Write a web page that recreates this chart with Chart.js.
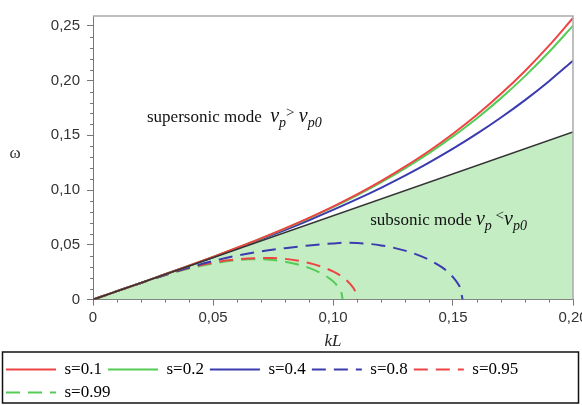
<!DOCTYPE html>
<html>
<head>
<meta charset="utf-8">
<script src="https://cdn.jsdelivr.net/npm/chart.js@4.4.1/dist/chart.umd.min.js"></script>
<style>
  html, body { margin: 0; background: #fff; }
  #wrap { width: 582px; height: 405px; }
</style>
</head>
<body>
<div id="wrap"><canvas id="dispersion"></canvas></div>
<script>
// wave number kL shared by the solid (supersonic) branches
const kSolid = [0, 0.01, 0.02, 0.03, 0.04, 0.05, 0.06, 0.07, 0.08, 0.09, 0.10,
                0.11, 0.12, 0.13, 0.14, 0.15, 0.16, 0.17, 0.18, 0.19, 0.20];
const omegaS01 = [0, 0.0077, 0.0153, 0.0231, 0.0309, 0.0390, 0.0473, 0.0559, 0.0650, 0.0747, 0.0850,
                  0.0961, 0.1082, 0.1214, 0.1357, 0.1515, 0.1688, 0.1879, 0.2088, 0.2319, 0.2572];
const omegaS02 = [0, 0.0077, 0.0153, 0.0231, 0.0309, 0.0389, 0.0472, 0.0558, 0.0648, 0.0743, 0.0844,
                  0.0953, 0.1071, 0.1199, 0.1338, 0.1491, 0.1657, 0.1840, 0.2041, 0.2261, 0.2502];
const omegaS04 = [0, 0.0077, 0.0153, 0.0231, 0.0308, 0.0387, 0.0468, 0.0551, 0.0636, 0.0725, 0.0819,
                  0.0917, 0.1021, 0.1132, 0.1251, 0.1378, 0.1515, 0.1663, 0.1822, 0.1995, 0.2182];

// subsonic branches, each closing on the axis
const kS08 = [0, 0.01, 0.02, 0.03, 0.04, 0.05, 0.06, 0.07, 0.08, 0.09, 0.10, 0.105, 0.11, 0.115,
              0.12, 0.125, 0.13, 0.135, 0.14, 0.145, 0.148, 0.15, 0.152, 0.153, 0.154];
const omegaS08 = [0, 0.0077, 0.0152, 0.0225, 0.0293, 0.0352, 0.0402, 0.0441, 0.0470, 0.0494, 0.0513, 0.0520, 0.0517, 0.0509,
                  0.0495, 0.0475, 0.0447, 0.0411, 0.0364, 0.0301, 0.0250, 0.0206, 0.0147, 0.0104, 0];
const kS095 = [0, 0.01, 0.02, 0.03, 0.04, 0.05, 0.06, 0.07, 0.075, 0.08, 0.085, 0.09, 0.095,
               0.10, 0.105, 0.108, 0.109, 0.1097, 0.110];
const omegaS095 = [0, 0.0077, 0.0152, 0.0224, 0.0288, 0.0338, 0.0367, 0.0379, 0.0380, 0.0372, 0.0357, 0.0334, 0.0302,
                   0.0257, 0.0189, 0.0121, 0.0087, 0.0048, 0];
const kS099 = [0, 0.01, 0.02, 0.03, 0.04, 0.05, 0.06, 0.065, 0.07, 0.075, 0.08, 0.085, 0.09,
               0.095, 0.098, 0.10, 0.102, 0.103, 0.1037, 0.104];
const omegaS099 = [0, 0.0077, 0.0152, 0.0222, 0.0284, 0.0330, 0.0360, 0.0368, 0.0369, 0.0361, 0.0346, 0.0323, 0.0290,
                   0.0242, 0.0202, 0.0167, 0.0120, 0.0085, 0.0045, 0];

// sound line omega = vp0 * k bounding the subsonic region
const kSound = [0, 0.20];
const omegaSound = [0, 0.153];

const seriesLabels = ['s=0.1', 's=0.2', 's=0.4', 's=0.8', 's=0.95', 's=0.99'];

const RED = '#ee4444', GREEN = '#55cc55', BLUE = '#3b3bb0';
const DASH = [14, 8];

const toPoints = (xs, ys) => xs.map((x, i) => ({ x: x, y: ys[i] }));
const commaTick = v => Math.abs(v) < 1e-9 ? '0' : v.toFixed(2).replace('.', ',');

function curve(label, xs, ys, color, dash) {
    return {
        label: label,
        data: toPoints(xs, ys),
        borderColor: color,
        backgroundColor: color,
        borderWidth: 2,
        borderDash: dash || [],
        showLine: true,
        pointRadius: 0,
        cubicInterpolationMode: 'monotone',
        fill: false
    };
}

// minor ticks every 0.01 plus the grey frame round the plot
const frame = {
    id: 'frame',
    afterDraw(chart) {
        const { ctx, chartArea: a, scales: { x, y } } = chart;
        ctx.save();
        ctx.strokeStyle = '#aaaaaa';
        ctx.lineWidth = 1.5;
        ctx.beginPath();
        ctx.moveTo(a.left, a.top);
        ctx.lineTo(a.right, a.top);
        ctx.lineTo(a.right, a.bottom);
        ctx.stroke();

        ctx.strokeStyle = '#777777';
        ctx.lineWidth = 1;
        ctx.beginPath();
        for (let i = 1; i < 26; i++) {
            if (i % 5 === 0) continue;
            const v = i / 100;
            if (v < x.max) {
                const px = Math.round(x.getPixelForValue(v)) + 0.5;
                ctx.moveTo(px, a.bottom);
                ctx.lineTo(px, a.bottom + 3);
            }
            if (v < y.max) {
                const py = Math.round(y.getPixelForValue(v)) + 0.5;
                ctx.moveTo(a.left, py);
                ctx.lineTo(a.left - 3, py);
            }
        }
        ctx.stroke();

        // box round the legend
        const lg = chart.legend;
        ctx.strokeStyle = '#111111';
        ctx.lineWidth = 1.5;
        ctx.strokeRect(2.5, lg.top - 3, chart.width - 6, chart.height - lg.top + 1);
        ctx.restore();
    }
};

function drawRich(ctx, x, y, parts) {
    for (const [text, font, dy] of parts) {
        ctx.font = font;
        ctx.fillText(text, x, y + dy);
        x += ctx.measureText(text).width;
    }
}

// region captions and the omega axis label
const captions = {
    id: 'captions',
    afterDraw(chart) {
        const { ctx, scales: { x, y } } = chart;
        const serif = '"Liberation Serif", "Times New Roman", serif';
        const roman = '17px ' + serif, nu = 'italic 20px ' + serif, sub = 'italic 14px ' + serif, rel = '15px ' + serif;
        ctx.save();
        ctx.fillStyle = '#111';
        ctx.textBaseline = 'alphabetic';
        drawRich(ctx, x.getPixelForValue(0.0225), y.getPixelForValue(0.162), [
            ['supersonic mode  ', roman, 0], ['\u03bd', nu, 0], ['p', sub, 5],
            ['>', rel, -5], [' ', roman, 0], ['\u03bd', nu, 0], ['p0', sub, 5]
        ]);
        drawRich(ctx, x.getPixelForValue(0.1155), y.getPixelForValue(0.068), [
            ['subsonic mode ', roman, 0], ['\u03bd', nu, 0], ['p', sub, 5],
            [' <', rel, -5], ['\u03bd', nu, 0], ['p0', sub, 5]
        ]);
        ctx.font = '17px ' + serif;
        ctx.fillStyle = '#333';
        ctx.textAlign = 'center';
        ctx.textBaseline = 'middle';
        ctx.fillText('\u03c9', 15, 154);
        ctx.restore();
    }
};

const datasets = [
    Object.assign(curve('sound', kSound, omegaSound, '#333333'), {
        borderWidth: 1.5,
        cubicInterpolationMode: 'default',
        backgroundColor: '#c4edc4',
        fill: 'origin'
    }),
    curve(seriesLabels[0], kSolid, omegaS01, RED),
    curve(seriesLabels[1], kSolid, omegaS02, GREEN),
    curve(seriesLabels[2], kSolid, omegaS04, BLUE),
    curve(seriesLabels[3], kS08, omegaS08, BLUE, DASH),
    curve(seriesLabels[4], kS095, omegaS095, RED, DASH),
    curve(seriesLabels[5], kS099, omegaS099, GREEN, DASH)
];

new Chart(document.getElementById('dispersion'), {
    type: 'scatter',
    data: { datasets: datasets },
    plugins: [frame, captions],
    options: {
        responsive: true,
        maintainAspectRatio: false,
        animation: false,
        layout: { padding: { left: 0, right: 9, top: 5, bottom: -6 } },
        plugins: {
            filler: { drawTime: 'beforeDatasetsDraw' },
            tooltip: { enabled: false },
            legend: {
                position: 'bottom',
                align: 'start',
                labels: {
                    usePointStyle: true,
                    pointStyleWidth: 50,
                    padding: 6,
                    color: '#111',
                    font: { family: '"Liberation Serif", serif', size: 17 },
                    generateLabels: chart => chart.data.datasets.slice(1).map((ds, i) => ({
                        text: ds.label,
                        fillStyle: ds.borderColor,
                        strokeStyle: ds.borderColor,
                        lineWidth: 2,
                        lineDash: ds.borderDash,
                        pointStyle: 'line',
                        hidden: false,
                        datasetIndex: i + 1
                    }))
                }
            }
        },
        scales: {
            x: {
                type: 'linear',
                min: 0,
                max: 0.2,
                afterFit: s => { s.paddingLeft = 0; s.paddingRight = 0; },
                border: { color: '#777' },
                grid: { drawOnChartArea: false, tickLength: 6, color: '#777' },
                ticks: {
                    stepSize: 0.05,
                    padding: 3,
                    maxRotation: 0,
                    color: '#333',
                    font: { family: '"Liberation Sans", sans-serif', size: 15 },
                    callback: commaTick
                },
                title: {
                    display: true,
                    text: 'kL',
                    color: '#222',
                    padding: { top: 2, bottom: 3 },
                    font: { family: '"Liberation Serif", serif', size: 17, style: 'italic' }
                }
            },
            y: {
                type: 'linear',
                min: 0,
                max: 0.259,
                afterFit: s => { s.width = 93; },
                border: { color: '#777' },
                grid: { drawOnChartArea: false, tickLength: 6, color: '#777' },
                ticks: {
                    stepSize: 0.05,
                    includeBounds: false,
                    padding: 7,
                    color: '#333',
                    font: { family: '"Liberation Sans", sans-serif', size: 15 },
                    callback: commaTick
                }
            }
        }
    }
});
</script>
</body>
</html>
